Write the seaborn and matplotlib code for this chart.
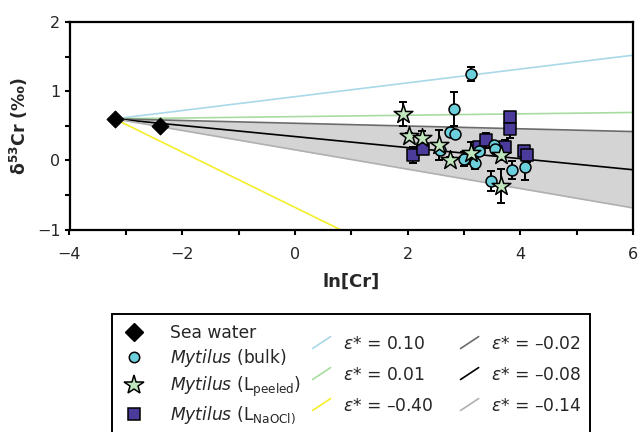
import numpy as np
import pandas as pd
import matplotlib
matplotlib.use("Agg")
import matplotlib.pyplot as plt
import seaborn as sns
from matplotlib.lines import Line2D
from matplotlib.patches import Rectangle
from matplotlib.legend_handler import HandlerBase
from matplotlib.ticker import MultipleLocator

# ----------------------------
# DATA
# ----------------------------

seawater_x = [-3.2, -2.4]
seawater_y = [0.60, 0.50]

bulk_x = [3.13, 2.83, 2.76, 2.84, 2.58, 3.00, 3.20, 3.26, 3.53, 3.48, 3.55, 3.85, 4.08]
bulk_y = [1.25, 0.74, 0.41, 0.38, 0.15, 0.02, -0.04, 0.13, 0.22, -0.30, 0.17, -0.14, -0.10]
bulk_err = [0.10, 0.25, 0.04, 0.04, 0.04, 0.10, 0.08, 0.04, 0.04, 0.14, 0.04, 0.13, 0.19]

peeled_x = [1.92, 2.02, 2.25, 2.55, 2.76, 3.13, 3.65, 3.65]
peeled_y = [0.67, 0.35, 0.33, 0.22, 0.01, 0.10, 0.08, -0.37]
peeled_err = [0.18, 0.04, 0.10, 0.22, 0.04, 0.16, 0.07, 0.25]

naocl_x = [2.09, 2.27, 3.26, 3.40, 3.72, 3.81, 3.81, 4.07, 4.12]
naocl_y = [0.08, 0.17, 0.19, 0.29, 0.19, 0.62, 0.46, 0.14, 0.07]
naocl_err = [0.12, 0.04, 0.05, 0.11, 0.10, 0.08, 0.13, 0.04, 0.10]

# fractionation model lines start at sea water
origin_x, origin_y = -3.2, 0.60
eps_values = [0.10, 0.01, -0.40, -0.02, -0.08, -0.14]
eps_labels = ["0.10", "0.01", "\u20130.40", "\u20130.02", "\u20130.08", "\u20130.14"]
eps_colors = ["#a9d9e8", "#a8dca0", "#f5ee2a", "#6b6b6b", "#000000", "#b0b0b0"]

# ----------------------------
# STYLE
# ----------------------------

sns.set_style("ticks")
plt.rcParams['font.family'] = ['DejaVu Sans']
plt.rcParams['mathtext.fontset'] = 'dejavusans'

fig = plt.figure(figsize=(6.38, 4.32), dpi=100)
ax = fig.add_axes([69.5 / 638, 1 - 229.5 / 432, (633 - 69.5) / 638, (229.5 - 22) / 432])

# ----------------------------
# MODEL LINES + SHADED RANGE
# ----------------------------

x_line = np.array([origin_x, 6.0])
model = {e: origin_y + e * (x_line - origin_x) for e in eps_values}

ax.fill_between(x_line, model[-0.02], model[-0.14], color="#d4d4d4", lw=0, zorder=1)
for e, c in zip(eps_values, eps_colors):
    sns.lineplot(x=x_line, y=model[e], color=c, lw=1.2, ax=ax, zorder=2)

# ----------------------------
# SAMPLES
# ----------------------------

bulk = pd.DataFrame({'x': bulk_x, 'y': bulk_y, 'err': bulk_err})
peeled = pd.DataFrame({'x': peeled_x, 'y': peeled_y, 'err': peeled_err})
naocl = pd.DataFrame({'x': naocl_x, 'y': naocl_y, 'err': naocl_err})

for d in [bulk, peeled, naocl]:
    ax.errorbar(d['x'], d['y'], yerr=d['err'], fmt='none', ecolor='black',
                elinewidth=1.4, capsize=3, capthick=1.4, zorder=3)

sns.scatterplot(data=naocl, x='x', y='y', marker='s', s=75, color='#4b3c9c',
                edgecolor='black', linewidth=1.1, ax=ax, zorder=4, legend=False)
sns.scatterplot(data=bulk, x='x', y='y', marker='o', s=62, color='#6ccfdc',
                edgecolor='black', linewidth=1.1, ax=ax, zorder=5, legend=False)
sns.scatterplot(data=peeled, x='x', y='y', marker='*', s=200, color='#bfe6bc',
                edgecolor='black', linewidth=1.1, ax=ax, zorder=6, legend=False)
sns.scatterplot(x=seawater_x, y=seawater_y, marker='D', s=75, color='black',
                edgecolor='black', ax=ax, zorder=7, legend=False)

# ----------------------------
# AXES
# ----------------------------

ax.set_xlim(-4, 6)
ax.set_ylim(-1, 2)
ax.xaxis.set_major_locator(MultipleLocator(2))
ax.xaxis.set_minor_locator(MultipleLocator(1))
ax.yaxis.set_major_locator(MultipleLocator(1))
ax.yaxis.set_minor_locator(MultipleLocator(0.5))
ax.tick_params(which='both', direction='out', length=3.5, width=1.5, color='black')
ax.tick_params(axis='x', which='major', labelsize=11.5, pad=9)
ax.tick_params(axis='y', which='major', labelsize=11.5, pad=3)
for s in ax.spines.values():
    s.set_linewidth(1.6)
    s.set_color('black')

ax.set_xlabel("ln[Cr]", fontsize=13, fontweight='bold', labelpad=8)
ax.set_ylabel(r"δ$^{\mathbf{53}}$Cr (‰)", fontsize=12.5, fontweight='bold', labelpad=5)

# ----------------------------
# LEGEND
# ----------------------------

class DiagHandler(HandlerBase):
    def create_artists(self, legend, orig_handle, xdescent, ydescent,
                       width, height, fontsize, trans):
        ln = Line2D([-xdescent, -xdescent + width], [-ydescent, -ydescent + height],
                    color=orig_handle.get_color(), lw=orig_handle.get_linewidth(),
                    transform=trans)
        return [ln]

marker_handles = [
    Line2D([], [], marker='D', ls='None', color='black', markersize=9),
    Line2D([], [], marker='o', ls='None', markerfacecolor='#6ccfdc', markeredgecolor='black',
           markeredgewidth=1.1, markersize=7.5),
    Line2D([], [], marker='*', ls='None', markerfacecolor='#bfe6bc', markeredgecolor='black',
           markeredgewidth=1.1, markersize=15),
    Line2D([], [], marker='s', ls='None', markerfacecolor='#4b3c9c', markeredgecolor='black',
           markeredgewidth=1.1, markersize=8),
]
marker_labels = [
    "Sea water",
    r"$\mathit{Mytilus}$ (bulk)",
    r"$\mathit{Mytilus}$ (L$_{\mathrm{peeled}}$)",
    r"$\mathit{Mytilus}$ (L$_{\mathrm{NaOCl)}}$",
]
leg1 = fig.legend(marker_handles, marker_labels, loc='upper left',
                  bbox_to_anchor=(111.5 / 638, 1 - 315 / 432), frameon=False,
                  borderpad=0, fontsize=12.3, handlelength=1.6, handletextpad=1.35,
                  labelspacing=0.33)

line_handles = [Line2D([], [], color=c, lw=1.2) for c in eps_colors]
line_labels = [r"$ε$* = " + t for t in eps_labels]
leg2 = fig.legend(line_handles, line_labels, loc='upper left', ncol=2,
                  bbox_to_anchor=(304 / 638, 1 - 326 / 432), frameon=False,
                  borderpad=0, fontsize=12.3, handlelength=1.06, handleheight=0.7,
                  handletextpad=0.75, labelspacing=0.76, columnspacing=1.55,
                  handler_map={Line2D: DiagHandler()})

fig.patches.append(Rectangle((112 / 638, -0.2), 478 / 638, 0.2 + 1 - 314 / 432,
                             transform=fig.transFigure, fill=False, ec='black', lw=1.4))

fig.savefig("out.png", dpi=100)
